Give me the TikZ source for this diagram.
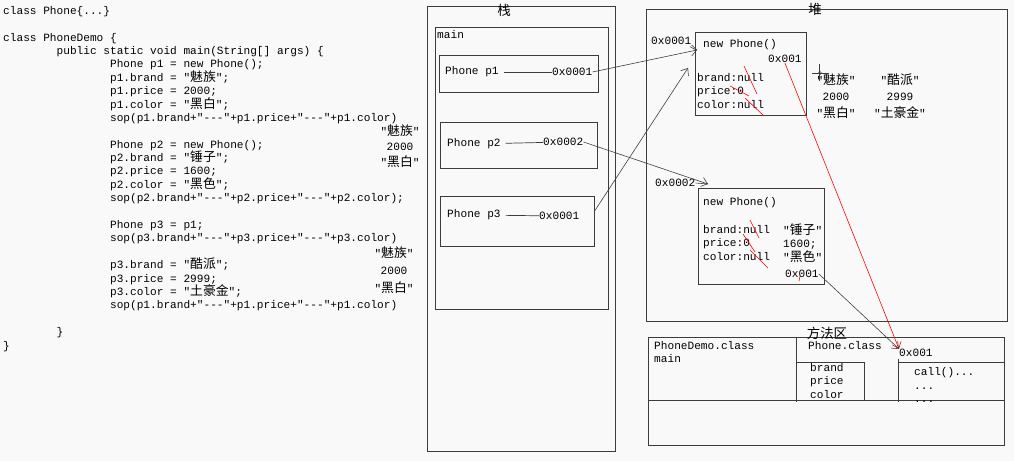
\documentclass[tikz,border=0pt]{standalone}
\usepackage{fontspec}
\usepackage{tikz}
\usetikzlibrary{arrows,arrows.meta}
\newfontfamily\codefont{Liberation Mono}
\newfontfamily\cjk[Scale=1.15]{Noto Sans CJK SC}
\newcommand{\zh}[1]{{\cjk #1}}
\newcommand{\ind}{\hspace*{4.8em}}
\definecolor{paper}{RGB}{249,249,249}
\definecolor{edge}{RGB}{60,60,60}
\tikzset{
  txt/.style={anchor=west,inner sep=0pt,font=\codefont\fontsize{9.5}{11.43}\selectfont},
  fieldtxt/.style={txt,align=left},
  code/.style={fieldtxt,anchor=north west},
  result/.style={inner sep=0pt,align=center,font=\codefont\fontsize{9.5}{13.5}\selectfont},
  areatitle/.style={inner sep=0pt,font=\cjk\fontsize{10}{11}\selectfont},
  box/.style={draw=edge,line width=0.8pt},
  link/.style={draw=edge,line width=0.6pt},
  ptr/.style={draw=edge,line width=0.5pt,-{Straight Barb[length=5pt,width=8pt]}},
  strike/.style={draw=red,line width=0.5pt}
}

\begin{document}
\lineskiplimit=-10pt
\begin{tikzpicture}[x=0.03cm,y=-0.03cm]
    \fill[paper] (0,0) rectangle (1014,461);
    % source code
    \node[code] (src) at (3,6) {class Phone\{...\}\\
\mbox{}\\
class PhoneDemo \{\\
\ind public static void main(String[] args) \{\\
\ind\ind Phone p1 = new Phone();\\
\ind\ind p1.brand = "\zh{魅族}";\\
\ind\ind p1.price = 2000;\\
\ind\ind p1.color = "\zh{黑白}";\\
\ind\ind sop(p1.brand+"---"+p1.price+"---"+p1.color)\\
\mbox{}\\
\ind\ind Phone p2 = new Phone();\\
\ind\ind p2.brand = "\zh{锤子}";\\
\ind\ind p2.price = 1600;\\
\ind\ind p2.color = "\zh{黑色}";\\
\ind\ind sop(p2.brand+"---"+p2.price+"---"+p2.color);\\
\mbox{}\\
\ind\ind Phone p3 = p1;\\
\ind\ind sop(p3.brand+"---"+p3.price+"---"+p3.color)\\
\mbox{}\\
\ind\ind p3.brand = "\zh{酷派}";\\
\ind\ind p3.price = 2999;\\
\ind\ind p3.color = "\zh{土豪金}";\\
\ind\ind sop(p1.brand+"---"+p1.price+"---"+p1.color)\\
\mbox{}\\
\ind \}\\
\}};
    \node[result] (res1) at (400,146) {"\zh{魅族}"\\2000\\"\zh{黑白}"};
    \node[result] (res2) at (394,270) {"\zh{魅族}"\\[1.5pt]2000\\[1.5pt]"\zh{黑白}"};

    % stack
    \draw[box] (427,6) rectangle (615,451);
    \node[areatitle] (stack) at (504,10) {栈};
    \draw[box] (435,27) rectangle (608,309);
    \node[txt] (mainlbl) at (437,35) {main};
    \draw[box] (439,55) rectangle (598,92);
    \node[txt] (p1) at (445,72) {Phone p1};
    \node[txt] (a1) at (552,72) {0x0001};
    \draw[link,shorten <=4pt] (p1) -- (a1);
    \draw[box] (440,122) rectangle (597,168);
    \node[txt] (p2) at (447,144) {Phone p2};
    \node[txt] (a2) at (543,142) {0x0002};
    \draw[link,shorten <=4pt] (p2) -- (a2);
    \draw[box] (440,196) rectangle (594,246);
    \coordinate (s3) at (594,221);
    \node[txt] (p3) at (447,215) {Phone p3};
    \node[txt] (a3) at (539,216) {0x0001};
    \draw[link,shorten <=4pt] (p3) -- (a3);

    % heap
    \draw[box] (646,9) rectangle (1007,321);
    \node[areatitle] (heap) at (815,9) {堆};
    \draw[box] (695,32) rectangle (806,115);
    \node[txt] (h1) at (651,41) {0x0001};
    \node[txt] (new1) at (703,45) {new Phone()};
    \node[txt] (o1a) at (768,59) {0x001};
    \node[fieldtxt] (f1) at (697,91) {brand:null\\price:0\\color:null};
    \node[result,font=\codefont\fontsize{9.5}{14}\selectfont] (v1) at (836,96) {"\zh{魅族}"\\2000\\"\zh{黑白}"};
    \node[result,font=\codefont\fontsize{9.5}{14}\selectfont] (v3) at (900,96) {"\zh{酷派}"\\2999\\"\zh{土豪金}"};
    \draw[strike] (744,66) -- (757,94) (730,86) -- (749,96) (745,98) -- (764,116);
    \draw[edge,line width=0.5pt] (812,73) -- (829,73) (819,64) -- (819,81);
    \draw[edge,line width=0.4pt] (820,73) circle (1.5);

    \draw[box] (698,188) rectangle (824,284);
    \node[txt] (h2) at (655,183) {0x0002};
    \node[txt] (new2) at (703,203) {new Phone()};
    \node[fieldtxt] (f2) at (703,243) {brand:null\\price:0\\color:null};
    \node[fieldtxt] (v2) at (783,243) {"\zh{锤子}"\\1600;\\"\zh{黑色}"};
    \node[txt] (o2a) at (785,274) {0x001};
    \draw[strike] (750,220) -- (759,238) (743,234) -- (755,252) (750,250) -- (768,268) (800,276) -- (799,281);

    % method area
    \draw[box] (648,337) rectangle (1004,445);
    \node[areatitle] (method) at (827,333) {方法区};
    \draw[box] (648,400) -- (1004,400) (796,337) -- (796,402)
        (796,362) -- (864,362) -- (864,400)
        (898,359) -- (898,402) (898,362) -- (1004,362);
    \node[fieldtxt] (demo) at (654,352) {PhoneDemo.class\\main};
    \node[txt] (cls) at (808,346) {Phone.class};
    \node[fieldtxt] (attr) at (810,381) {brand\\price\\color};
    \node[txt] (m0x) at (899,353) {0x001};
    \node[fieldtxt] (meth) at (914,385) {call()...\\...\\...};

    % references
    \coordinate (t1) at (697,50);
    \coordinate (t3) at (688,68);
    \coordinate (t2) at (708,184);
    \draw[ptr] (a1.east) -- (t1);
    \draw[ptr] (s3 |- a3.north) -- (t3);
    \draw[ptr] (a2.east) -- (t2);
    \draw[link,line width=0.5pt] (h1.south east) -- (t1);
    \draw[link,line width=0.5pt] (h2.east) -- (t2);
    \draw[ptr,draw=red] (o1a.south) -- (m0x.north west);
    \draw[ptr] (o2a.east) -- (m0x.north west);
\end{tikzpicture}
\end{document}
